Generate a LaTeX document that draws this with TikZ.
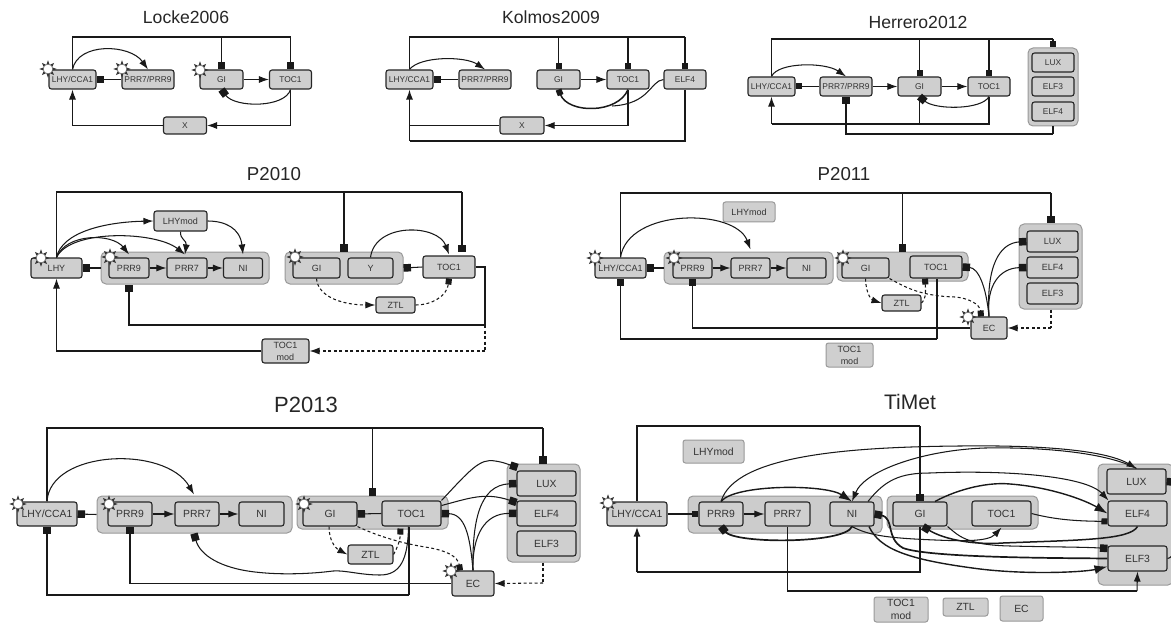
\documentclass[tikz,border=0pt]{standalone}
\usepackage{fontspec}
\setmainfont{Liberation Sans}
\usetikzlibrary{arrows.meta}
\tikzset{
  genebox/.style={draw=black!85,line width=1.1pt,fill=black!19,rounded corners=2.5pt,inner sep=0pt,align=center,text=black!80,font=\fontsize{#1}{#1}\selectfont},
  ghostbox/.style={draw=black!40,line width=1pt,fill=black!19,rounded corners=2.5pt,inner sep=0pt,align=center,text=black!80,font=\fontsize{#1}{#1}\selectfont},
  groupbox/.style={draw=black!40,line width=1pt,fill=black!20,rounded corners=5pt,inner sep=0pt},
  panelhead/.style={inner sep=0pt,text=black!85,font=\fontsize{#1}{#1}\selectfont},
  wire/.style={draw=black!90,line width=1.05pt},
  act/.style={wire,-{Latex[length=10pt,width=7pt]}},
  bigact/.style={wire,-{Latex[length=13pt,width=9pt]}},
  rep/.style={wire,-{Square[length=7.5pt,width=7.5pt]}},
  repsmall/.style={wire,-{Square[length=6pt,width=6pt]}},
  dact/.style={act,dash pattern=on 3pt off 2.5pt},
  drep/.style={repsmall,dash pattern=on 3pt off 2.5pt},
  dwire/.style={wire,dash pattern=on 3pt off 2.5pt},
  heavy/.style={line width=1.7pt},
  sunmark/.pic={
    \foreach \a in {0,45,...,315} \fill[black!80,rotate=\a] (4,-1.7) -- (8.7,0) -- (4,1.7) -- cycle;
    \draw[black!60,line width=0.3pt,fill=white] (0,0) circle (4.7);
  }
}
\begin{document}
\begin{tikzpicture}[x=1pt,y=-1pt]
\useasboundingbox (0,0) rectangle (1171,623);
% Locke2006
\node[panelhead=17.6] (titleA) at (186,17) {Locke2006};
\node[genebox=8.4,minimum width=47,minimum height=19] (lhyA) at (72.5,79.5) {LHY/CCA1};
\node[genebox=8.4,minimum width=52,minimum height=19] (prrA) at (148,79.5) {PRR7/PRR9};
\node[genebox=8.4,minimum width=43,minimum height=19] (giA) at (221.5,79.5) {GI};
\node[genebox=8.4,minimum width=42,minimum height=19] (tocA) at (290.5,79.5) {TOC1};
\node[genebox=8.4,minimum width=43,minimum height=17] (xA) at (185,125.5) {X};
\coordinate (railA) at (290.5,37);
\draw[wire] (lhyA.north) |- (railA);
\draw[rep] (giA.north |- railA) -- (giA.north);
\draw[rep] (railA) -- (tocA.north);
\draw[act] (lhyA.north) .. controls (78,42) and (130,44) .. (prrA.north);
\draw[rep] (prrA.west) -- (lhyA.east);
\draw[act] (giA.east) -- (tocA.west);
\draw[rep] (tocA.south) .. controls (285,108) and (235,108) .. (giA.south);
\draw[act] (tocA.south) |- (xA.east);
\draw[act] (xA.west) -| (lhyA.south);
\pic at (48,69) {sunmark}; \pic at (122,69) {sunmark}; \pic at (200,70) {sunmark};
% Kolmos2009
\node[panelhead=17.6] (titleB) at (551,17) {Kolmos2009};
\node[genebox=8.4,minimum width=47,minimum height=19] (lhyB) at (409.5,79.5) {LHY/CCA1};
\node[genebox=8.4,minimum width=52,minimum height=19] (prrB) at (485,79.5) {PRR7/PRR9};
\node[genebox=8.4,minimum width=43,minimum height=19] (giB) at (558.5,79.5) {GI};
\node[genebox=8.4,minimum width=42,minimum height=19] (tocB) at (628,79.5) {TOC1};
\node[genebox=8.4,minimum width=42,minimum height=19] (elfB) at (685,79.5) {ELF4};
\node[genebox=8.4,minimum width=44,minimum height=17] (xB) at (522,125.5) {X};
\coordinate (railB) at (685,37);
\coordinate (lowB) at (685,141);
\draw[wire,line width=1.3pt] (lhyB.north) |- (railB);
\draw[repsmall] (giB.north |- railB) -- (giB.north);
\draw[repsmall] (tocB.north |- railB) -- (tocB.north);
\draw[repsmall] (railB) -- (elfB.north);
\draw[act] (lhyB.north) .. controls (420,56) and (465,56) .. (prrB.north);
\draw[rep] (prrB.west) -- (lhyB.east);
\draw[act] (giB.east) -- (tocB.west);
\draw[repsmall,line width=1.5pt] (tocB.south) .. controls (618,114) and (568,114) .. (giB.south);
\draw[wire] (elfB.west) .. controls (650,81) and (650,104) .. (612,106);
\draw[act] (tocB.south) |- (xB.east);
\draw[wire] (xB.west) -- (xB.west -| lhyB.south);
\draw[wire] (elfB.south) |- (lowB -| lhyB.south);
\draw[act,line width=1.3pt] (lowB -| lhyB.south) -- (lhyB.south);
% Herrero2012
\node[panelhead=17.6] (titleC) at (918,22) {Herrero2012};
\node[groupbox,minimum width=50,minimum height=78] (groupC) at (1053,87) {};
\node[genebox=8.4,minimum width=47,minimum height=19] (lhyC) at (771.5,86.5) {LHY/CCA1};
\node[genebox=8.4,minimum width=52,minimum height=19] (prrC) at (846,86.5) {PRR7/PRR9};
\node[genebox=8.4,minimum width=43,minimum height=19] (giC) at (919.5,86.5) {GI};
\node[genebox=8.4,minimum width=42,minimum height=19] (tocC) at (989,86.5) {TOC1};
\node[genebox=8.4,minimum width=42,minimum height=19] (luxC) at (1053,62.5) {LUX};
\node[genebox=8.4,minimum width=42,minimum height=19] (elf3C) at (1053,86.5) {ELF3};
\node[genebox=8.4,minimum width=42,minimum height=19] (elf4C) at (1053,111.5) {ELF4};
\coordinate (railC) at (1053,39);
\coordinate (lowC) at (989,124);
\coordinate (underC) at (1053,134);
\draw[wire,line width=1.3pt] (lhyC.north) |- (railC);
\draw[repsmall] (giC.north |- railC) -- (giC.north);
\draw[repsmall] (tocC.north |- railC) -- (tocC.north);
\draw[repsmall] (railC) -- (groupC.north);
\draw[act] (lhyC.north) .. controls (778,62) and (825,62) .. (prrC.north);
\draw[repsmall] (prrC.west) -- (lhyC.east);
\draw[act] (prrC.east) -- (giC.west);
\draw[act] (giC.east) -- (tocC.west);
\draw[rep] (tocC.south) .. controls (982,110) and (935,110) .. (giC.south);
\draw[wire] (tocC.south) |- (lowC -| lhyC.south);
\draw[wire] (giC.south) -- (giC.south |- lowC);
\draw[act,line width=1.3pt] (lowC -| lhyC.south) -- (lhyC.south);
\draw[wire] (groupC.south) -- (underC);
\draw[rep] (underC) -| (prrC.south);
% P2010
\node[panelhead=18.7] (titleD) at (274,174) {P2010};
\node[groupbox,minimum width=168,minimum height=32] (groupPrrD) at (185,268) {};
\node[groupbox,minimum width=118,minimum height=32] (groupGiD) at (344,268) {};
\node[genebox=9,minimum width=51,minimum height=20] (lhyD) at (56.5,268) {LHY};
\node[genebox=9,minimum width=40,minimum height=20] (prr9D) at (129,268) {PRR9};
\node[genebox=9,minimum width=40,minimum height=20] (prr7D) at (187,268) {PRR7};
\node[genebox=9,minimum width=39,minimum height=20] (niD) at (243,268) {NI};
\node[genebox=9,minimum width=53,minimum height=20] (lhymodD) at (180.5,221) {LHYmod};
\node[genebox=9,minimum width=47,minimum height=20] (giD) at (316.5,268) {GI};
\node[genebox=9,minimum width=45,minimum height=20] (yD) at (370.5,268) {Y};
\node[genebox=9,minimum width=52,minimum height=22] (tocD) at (449,267) {TOC1};
\node[genebox=9,minimum width=39,minimum height=16] (ztlD) at (395.5,305) {ZTL};
\node[genebox=9,minimum width=47,minimum height=24] (modD) at (285.5,351) {TOC1\\[3pt]mod};
\coordinate (railD) at (462,192);
\coordinate (capD) at (462,252);
\coordinate (turnD) at (485,325);
\coordinate (downD) at (485,351);
\draw[wire] (lhyD.north) |- (railD);
\draw[rep] (groupGiD.north |- railD) -- (groupGiD.north);
\draw[rep] (railD) -- (capD);
\draw[act] (lhyD.north) .. controls (62,232) and (105,222) .. (lhymodD.west);
\draw[act] (lhyD.north) .. controls (66,233) and (112,233) .. ([yshift=3pt]prr9D.north);
\draw[act] (lhyD.north) .. controls (70,229) and (155,231) .. ([xshift=-2pt,yshift=3pt]prr7D.north);
\draw[act] (lhymodD.south) .. controls (180,240) and (187,240) .. ([xshift=-2pt,yshift=3pt]prr7D.north);
\draw[act] (lhymodD.east) .. controls (225,221) and (240,228) .. ([yshift=3pt]niD.north);
\draw[rep] (groupPrrD.west) -- (lhyD.east);
\draw[act] (prr9D.east) -- (prr7D.west);
\draw[act] (prr7D.east) -- (niD.west);
\draw[act] (yD.north) .. controls (375,222) and (438,224) .. ([yshift=1pt]tocD.north);
\draw[rep] (tocD.west) -- (groupGiD.east);
\draw[dact] (giD.south) .. controls (318,298) and (345,305) .. (ztlD.west);
\draw[drep] (ztlD.east) .. controls (432,305) and (447,296) .. (tocD.south);
\draw[wire] (tocD.east) -| (turnD);
\draw[rep] (turnD) -| (groupPrrD.south -| prr9D.south);
\draw[dwire] (turnD) -- (downD);
\draw[dact] (downD) -- (modD.east);
\draw[act] (modD.west) -| (lhyD.south);
\pic at (41,258) {sunmark}; \pic at (110,257) {sunmark}; \pic at (295,257) {sunmark};
% P2011
\node[panelhead=18.7] (titleE) at (844,174) {P2011};
\node[groupbox,minimum width=169,minimum height=32] (groupPrrE) at (748.5,268) {};
\node[groupbox,minimum width=131,minimum height=29] (groupGiE) at (902.5,266.5) {};
\node[groupbox,minimum width=63,minimum height=85] (groupEcE) at (1050.5,266.5) {};
\node[genebox=9,minimum width=51,minimum height=20] (lhyE) at (620.5,268) {LHY/CCA1};
\node[genebox=9,minimum width=39,minimum height=20] (prr9E) at (692.5,268) {PRR9};
\node[genebox=9,minimum width=39,minimum height=20] (prr7E) at (750.5,268) {PRR7};
\node[genebox=9,minimum width=39,minimum height=20] (niE) at (806.5,268) {NI};
\node[ghostbox=9,minimum width=52,minimum height=20] (lhymodE) at (749,212) {LHYmod};
\node[genebox=9,minimum width=47,minimum height=20] (giE) at (865.5,268) {GI};
\node[genebox=9,minimum width=52,minimum height=22] (tocE) at (936,267) {TOC1};
\node[genebox=9,minimum width=39,minimum height=16] (ztlE) at (901.5,303) {ZTL};
\node[genebox=9,minimum width=51,minimum height=21] (luxE) at (1052.5,241.5) {LUX};
\node[genebox=9,minimum width=51,minimum height=21] (elf4E) at (1052.5,267.5) {ELF4};
\node[genebox=9,minimum width=51,minimum height=21] (elf3E) at (1052.5,293.5) {ELF3};
\node[genebox=9,minimum width=36,minimum height=22] (ecE) at (989,328) {EC};
\node[ghostbox=9,minimum width=47,minimum height=24] (modE) at (849.5,355) {TOC1\\[3pt]mod};
\coordinate (railE) at (1051,193);
\coordinate (lowE) at (937,339);
\coordinate (dashE) at (1051,328);
\draw[wire] (lhyE.north) |- (railE);
\draw[rep] (groupGiE.north |- railE) -- (groupGiE.north);
\draw[rep] (railE) -- (railE |- groupEcE.north);
\draw[act] (lhyE.north) .. controls (628,208) and (735,208) .. ([yshift=8pt]prr7E.north);
\draw[rep] (groupPrrE.west) -- (lhyE.east);
\draw[act] (prr9E.east) -- (prr7E.west);
\draw[act] (prr7E.east) -- (niE.west);
\draw[rep] (lowE) -| (lhyE.south);
\draw[wire] (lowE) -- (lowE |- tocE.south);
\draw[rep] (ecE.west) -| (prr9E.south);
\draw[rep] (ecE.north) .. controls (986,285) and (978,268) .. (tocE.east);
\draw[rep] (ecE.north) .. controls (986,265) and (1000,243) .. (luxE.west);
\draw[rep] (ecE.north) .. controls (986,285) and (1000,268) .. (elf4E.west);
\draw[drep] (giE.south east) .. controls (905,287) and (920,296) .. (955,297) .. controls (968,298) and (980,304) .. ([xshift=-8pt]ecE.north);
\draw[dact] (giE.south) .. controls (866,295) and (872,300) .. (ztlE.west);
\draw[drep] (ztlE.east) .. controls (925,300) and (926,295) .. ([xshift=-11pt]tocE.south);
\draw[dwire] (groupEcE.south -| railE) -- (dashE);
\draw[dact] (dashE) -- (ecE.east);
\pic at (595,258) {sunmark}; \pic at (674,258) {sunmark}; \pic at (843,258) {sunmark}; \pic at (968,317) {sunmark};
% P2013
\node[panelhead=22] (titleF) at (306,405) {P2013};
\node[groupbox,minimum width=195,minimum height=37] (groupPrrF) at (194.5,514.5) {};
\node[groupbox,minimum width=151,minimum height=33] (groupGiF) at (372.5,512.5) {};
\node[groupbox,minimum width=73,minimum height=98] (groupEcF) at (543.5,513) {};
\node[genebox=10.4,minimum width=60,minimum height=24] (lhyF) at (47,514) {LHY/CCA1};
\node[genebox=10.4,minimum width=44,minimum height=24] (prr9F) at (130,514) {PRR9};
\node[genebox=10.4,minimum width=44,minimum height=24] (prr7F) at (197,514) {PRR7};
\node[genebox=10.4,minimum width=45,minimum height=24] (niF) at (261.5,514) {NI};
\node[genebox=10.4,minimum width=54,minimum height=24] (giF) at (330,514) {GI};
\node[genebox=10.4,minimum width=59,minimum height=25] (tocF) at (411.5,513.5) {TOC1};
\node[genebox=10.4,minimum width=45,minimum height=19] (ztlF) at (370.5,554.5) {ZTL};
\node[genebox=10.4,minimum width=42,minimum height=25] (ecF) at (473,583.5) {EC};
\node[genebox=10.4,minimum width=59,minimum height=25] (luxF) at (546.5,483.5) {LUX};
\node[genebox=10.4,minimum width=59,minimum height=25] (elf4F) at (546.5,513.5) {ELF4};
\node[genebox=10.4,minimum width=59,minimum height=25] (elf3F) at (546.5,543.5) {ELF3};
\coordinate (railF) at (543,428);
\coordinate (lowF) at (409,595);
\coordinate (dashF) at (543,583);
\draw[wire] (lhyF.north) |- (railF);
\draw[rep] (groupGiF.north |- railF) -- (groupGiF.north);
\draw[rep] (railF) -- (railF |- groupEcF.north);
\draw[act] (lhyF.north) .. controls (50,450) and (165,445) .. ([xshift=-3pt,yshift=7pt]prr7F.north);
\draw[rep] (groupPrrF.west) -- (lhyF.east);
\draw[act] (prr9F.east) -- (prr7F.west);
\draw[act] (prr7F.east) -- (niF.west);
\draw[rep] (lowF) -| (lhyF.south);
\draw[wire] (lowF) -- (lowF |- tocF.south);
\draw[rep] (ecF.west) -| (prr9F.south);
\draw[rep] ([xshift=-3pt]tocF.south) .. controls (408,560) and (400,575) .. (380,575) .. controls (360,575) and (345,570) .. (333,571) .. controls (310,574) and (280,575) .. (255,572) .. controls (220,568) and (200,555) .. ([xshift=-3pt,yshift=-7pt]prr7F.south);
\draw[rep] (tocF.west) -- (giF.east);
\draw[rep] (ecF.north) .. controls (470,535) and (465,514) .. (tocF.east);
\draw[rep] (ecF.north) .. controls (472,520) and (480,485) .. (luxF.west);
\draw[rep] (ecF.north) .. controls (472,535) and (485,513) .. (elf4F.west);
\draw[rep] (tocF.north east) .. controls (470,470) and (480,458) .. (495,461) .. controls (503,462) and (510,465) .. ([xshift=-29pt,yshift=3pt]luxF.north);
\draw[rep] ([yshift=8pt]tocF.east) .. controls (470,498) and (485,492) .. ([yshift=11pt]elf4F.west);
\draw[dact] ([xshift=-1pt]giF.south) .. controls (329,540) and (335,548) .. (ztlF.west);
\draw[drep] (giF.south east) .. controls (375,535) and (400,543) .. (425,547) .. controls (445,550) and (458,556) .. ([xshift=-13pt]ecF.north);
\draw[drep] (ztlF.east) .. controls (397,548) and (400,542) .. ([xshift=-11pt,yshift=-2pt]tocF.south);
\draw[dwire] (groupEcF.south -| railF) -- (dashF);
\draw[dact] (dashF) -- (ecF.east);
\pic at (18,504) {sunmark}; \pic at (109,504) {sunmark}; \pic at (304,504) {sunmark}; \pic at (451,571) {sunmark};
% TiMet
\node[panelhead=21] (titleG) at (910,402) {TiMet};
\node[groupbox,minimum width=194,minimum height=37] (groupPrrG) at (785,514.5) {};
\node[groupbox,minimum width=151,minimum height=33] (groupGiG) at (962.5,512.5) {};
\node[groupbox,minimum width=75,minimum height=121] (groupEcG) at (1135.5,524.5) {};
\node[genebox=10.4,minimum width=60,minimum height=24] (lhyG) at (637,514) {LHY/CCA1};
\node[genebox=10.4,minimum width=44,minimum height=24] (prr9G) at (721,514) {PRR9};
\node[genebox=10.4,minimum width=45,minimum height=24] (prr7G) at (787.5,514) {PRR7};
\node[genebox=10.4,minimum width=44,minimum height=24] (niG) at (852,514) {NI};
\node[ghostbox=10.4,minimum width=61,minimum height=23] (lhymodG) at (713.5,451.5) {LHYmod};
\node[genebox=10.4,minimum width=54,minimum height=24] (giG) at (920,514) {GI};
\node[genebox=10.4,minimum width=59,minimum height=25] (tocG) at (1001.5,513.5) {TOC1};
\node[genebox=10.4,minimum width=59,minimum height=25] (luxG) at (1136.5,481.5) {LUX};
\node[genebox=10.4,minimum width=59,minimum height=25] (elf4G) at (1137.5,513.5) {ELF4};
\node[genebox=10.4,minimum width=59,minimum height=25] (elf3G) at (1137.5,558.5) {ELF3};
\node[ghostbox=10.4,minimum width=54,minimum height=25] (modG) at (901,609.5) {TOC1\\[3pt]mod};
\node[ghostbox=10.4,minimum width=45,minimum height=18] (ztlG) at (965.5,607) {ZTL};
\node[ghostbox=10.4,minimum width=43,minimum height=25] (ecG) at (1021.5,608.5) {EC};
\coordinate (railG) at (920,426);
\coordinate (lowG) at (920,572);
\coordinate (underG) at (1137,591);
\draw[wire,heavy] (lhyG.north) |- (railG);
\draw[rep,heavy] (railG) -- (giG.north);
\draw[wire,heavy] (giG.south) |- (lowG -| lhyG.south);
\draw[act,heavy] (lowG -| lhyG.south) -- (lhyG.south);
\draw[repsmall] (lhyG.east) -- (prr9G.west);
\draw[act] (prr9G.east) -- (prr7G.west);
\draw[bigact,line width=1.4pt] (prr9G.north) .. controls (735,484) and (825,484) .. (niG.north);
\draw[rep,line width=1.7pt] (niG.south) .. controls (845,544) and (735,544) .. (prr9G.south);
\draw[act] (prr9G.north) .. controls (735,455) and (850,447) .. (960,446) .. controls (1040,445) and (1105,450) .. (luxG.north);
\draw[act] (luxG.north) .. controls (1105,452) and (1040,447) .. (985,448) .. controls (925,450) and (865,470) .. (niG.north);
\draw[act] ([xshift=16pt]niG.north) .. controls (885,480) and (900,473) .. (930,473) .. controls (1000,470) and (1085,475) .. ([xshift=-29pt]elf4G.north);
\draw[bigact,line width=1.4pt] ([xshift=15pt]giG.north) .. controls (960,488) and (990,482) .. (1010,484) .. controls (1050,487) and (1085,500) .. (elf4G.west);
\draw[rep,heavy] (elf3G.west) .. controls (1060,558) and (930,558) .. (903,548) .. controls (885,538) and (895,518) .. (niG.east);
\draw[bigact,line width=1.4pt] ([xshift=17pt]niG.south) .. controls (880,550) and (910,560) .. (980,569) .. controls (1030,575) and (1085,572) .. ([yshift=-8pt]elf3G.west);
\draw[act] (niG.south) .. controls (868,535) and (885,538) .. (935,540) .. controls (960,541) and (988,542) .. ([yshift=-1pt]tocG.south);
\draw[rep,line width=1.5pt] (elf4G.south) .. controls (1130,540) and (1080,540) .. (1003,543) .. controls (975,545) and (945,540) .. ([xshift=3pt]giG.south);
\draw[rep] (giG.south east) .. controls (958,535) and (965,545) .. (1010,546) .. controls (1050,547) and (1085,547) .. ([yshift=10pt]elf3G.west);
\draw[repsmall] (tocG.east) .. controls (1060,521) and (1085,521) .. ([yshift=-8pt]elf4G.west);
\draw[rep] (elf3G.east) .. controls (1182,558) and (1185,483) .. (luxG.east);
\draw[wire] (prr7G.south) |- (underG);
\draw[act] (underG) -- (elf3G.south);
\pic at (608,503) {sunmark};
\end{tikzpicture}
\end{document}
